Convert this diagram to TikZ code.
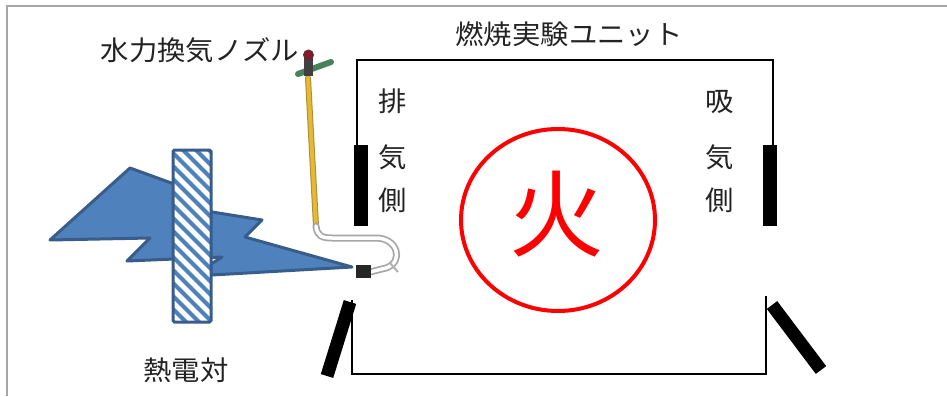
\documentclass[tikz,border=0pt]{standalone}
\usepackage{fontspec}
\newfontfamily\jpfont{Noto Sans CJK JP}
\definecolor{flameblue}{RGB}{79,129,189}
\definecolor{edgeblue}{RGB}{56,93,138}
\definecolor{rodyellow}{RGB}{232,184,48}
\definecolor{rodedge}{RGB}{170,140,60}
\definecolor{handlegreen}{RGB}{72,130,88}
\definecolor{knobred}{RGB}{120,30,45}
\definecolor{inkgray}{RGB}{35,35,35}
\tikzset{
  label/.style={font=\jpfont\fontsize{27}{27}\selectfont, text=inkgray, inner sep=0pt, xscale=1.05},
  wall/.style={line width=1.8pt, black},
  plate/.style={fill=black, draw=none},
  tilted/.style={line width=13pt, black},
}
\begin{document}
\begin{tikzpicture}[x=1pt,y=-1pt]
\useasboundingbox (0,0) rectangle (947,396);
\fill[white] (0,0) rectangle (947,396);
% frame of the sheet
\draw[gray!70, line width=1.5pt] (7,396) -- (7,6) -- (947,6);

% heat flow shape behind the thermocouple
\filldraw[fill=flameblue, draw=edgeblue, line width=3pt, line join=round]
  (50,240) -- (130,168) -- (185,188) -- (212,212) -- (262,220) -- (245,237)
  -- (352,267) -- (212,275) -- (205,268) -- (222,257) -- (127,261)
  -- (150,238) -- cycle;

% thermocouple plate with stripes
\begin{scope}
  \clip (173,150) rectangle (211,322);
  \fill[white] (173,150) rectangle (211,322);
  \foreach \k in {-4,...,16}
    \draw[flameblue, line width=4pt] (160,150+\k*13-10) -- ++(70,70);
\end{scope}
\draw[edgeblue, line width=3pt, rounded corners=1.5pt] (173,150) rectangle (211,322);

% combustion unit walls
\draw[wall] (357,145) -- (357,60) -- (773,60) -- (773,145);
\fill[plate] (354,145) rectangle (368,226);
\fill[plate] (763,145) rectangle (777,226);
\draw[wall] (352,300) -- (352,374) -- (766,374) -- (766,296);
\draw[tilted] (350,302) -- (327,376);
\draw[tilted] (772,305) -- (821,370);

% fire
\draw[red, line width=4pt] (558,220) ellipse [x radius=97, y radius=91];
\node[font=\jpfont\fontsize{95}{95}\selectfont, text=red, inner sep=0pt] (fire) at (557,214) {火};

% water-driven ventilation nozzle
\draw[rodedge, line width=6pt, line cap=round] (308,78) -- (316,226);
\draw[rodyellow, line width=4pt, line cap=round] (308,78) -- (316,226);
\draw[gray!70, line width=7pt, line cap=round, line join=round]
  (316,226) .. controls (317,236) and (322,238) .. (332,238) -- (376,238)
  .. controls (398,238) and (404,262) .. (386,268) -- (370,272);
\draw[white, line width=3.5pt, line cap=round, line join=round]
  (316,226) .. controls (317,236) and (322,238) .. (332,238) -- (376,238)
  .. controls (398,238) and (404,262) .. (386,268) -- (370,272);
\draw[gray!60, line width=2pt] (390,263) -- (398,272);
\fill[black!85] (356,265) rectangle (371,278);
\draw[handlegreen, line width=6pt, line cap=round] (298,74) -- (331,62);
\fill[black!75] (304,58) rectangle (313,76);
\fill[knobred] (308.5,55) circle (5.5);

% labels
\node[label] (unit) at (569,34) {燃焼実験ユニット};
\node[label] (nozzle) at (200,50) {水力換気ノズル};
\node[label] (thermo) at (186,370) {熱電対};
\node[label] (ex1) at (393,101) {排};
\node[label] (ex2) at (393,157) {気};
\node[label] (ex3) at (393,200) {側};
\node[label] (in1) at (720,102) {吸};
\node[label] (in2) at (720,157) {気};
\node[label] (in3) at (720,200) {側};
\end{tikzpicture}
\end{document}
